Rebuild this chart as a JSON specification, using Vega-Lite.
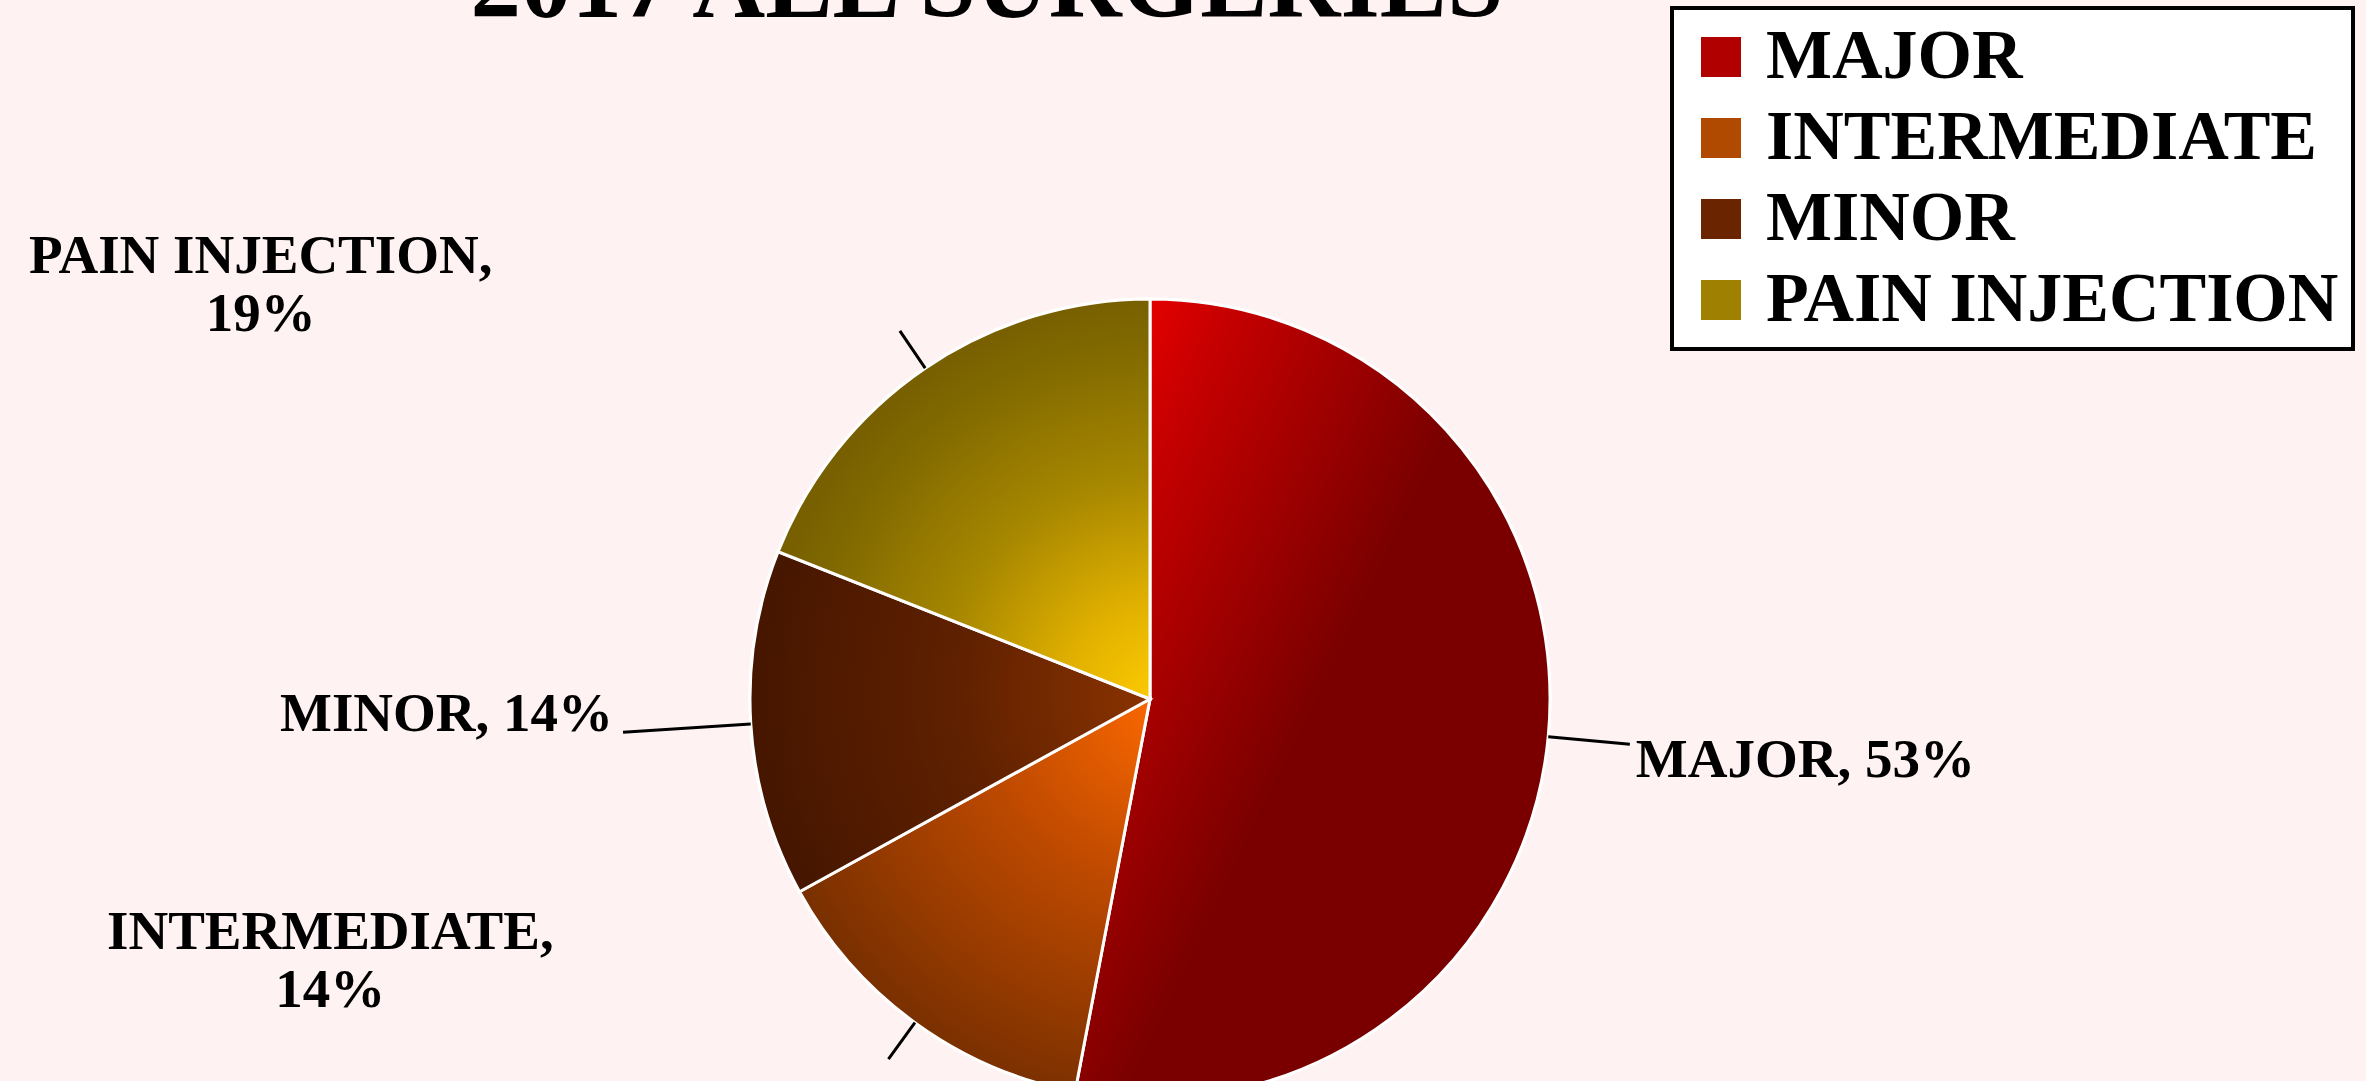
{
  "$schema": "https://vega.github.io/schema/vega-lite/v6.json",
  "autosize": "none",
  "width": 2300,
  "height": 764,
  "padding": {"left": 0, "top": 317, "right": 66, "bottom": 0},
  "background": "#FFF2F2",
  "title": {
    "text": "2017 ALL SURGERIES",
    "font": "Liberation Serif",
    "fontSize": 101,
    "fontWeight": "bold",
    "color": "black",
    "anchor": "middle",
    "frame": "group",
    "baseline": "alphabetic",
    "offset": -18,
    "dx": -163,
    "dy": 94
  },
  "data": {
    "values": [
      {"category": "MAJOR", "value": 53, "order": 1, "label": "MAJOR, 53%"},
      {"category": "INTERMEDIATE", "value": 14, "order": 2, "label": "INTERMEDIATE,\n14%"},
      {"category": "MINOR", "value": 14, "order": 3, "label": "MINOR, 14%"},
      {"category": "PAIN INJECTION", "value": 19, "order": 4, "label": "PAIN INJECTION,\n19%"}
    ]
  },
  "resolve": {"scale": {"theta": "independent"}},
  "layer": [
    {
      "mark": {"type": "arc", "radius": 400, "stroke": "white", "strokeWidth": 3},
      "encoding": {
        "theta": {"field": "value", "type": "quantitative", "stack": true, "scale": {"domain": [0, 100]}},
        "color": {
          "field": "category",
          "type": "nominal",
          "scale": {
            "domain": ["MAJOR", "INTERMEDIATE", "MINOR", "PAIN INJECTION"],
            "range": ["#B00000", "#B04A00", "#6A2500", "#A08000"]
          },
          "legend": {
            "title": null,
            "orient": "none",
            "legendX": 1672,
            "legendY": -309,
            "direction": "vertical",
            "fillColor": "white",
            "strokeColor": "black",
            "padding": 14,
            "symbolType": "square",
            "symbolSize": 1600,
            "symbolStrokeWidth": 0,
            "symbolOpacity": 1,
            "labelFont": "Liberation Serif",
            "labelFontSize": 70,
            "labelFontWeight": "bold",
            "labelColor": "black",
            "labelOffset": 10,
            "labelLimit": 1000,
            "rowPadding": 11
          }
        },
        "order": {"field": "order", "type": "quantitative"}
      }
    },
    {
      "transform": [
        {"stack": "value", "groupby": [], "sort": [{"field": "order", "order": "ascending"}], "as": ["v0", "v1"]},
        {"filter": "datum.category === 'MAJOR'"}
      ],
      "mark": {"type": "arc", "radius": 400, "stroke": "white", "strokeWidth": 3,
        "color": {"gradient": "linear", "x1": 0, "y1": 0, "x2": 0.55, "y2": 0.45,
          "stops": [{"offset": 0, "color": "#FF0000"}, {"offset": 0.35, "color": "#C80000"}, {"offset": 1, "color": "#7A0000"}]}},
      "encoding": {
        "theta": {"field": "v0", "type": "quantitative", "scale": {"domain": [0, 100]}},
        "theta2": {"field": "v1"}
      }
    },
    {
      "transform": [
        {"stack": "value", "groupby": [], "sort": [{"field": "order", "order": "ascending"}], "as": ["v0", "v1"]},
        {"filter": "datum.category === 'INTERMEDIATE'"}
      ],
      "mark": {"type": "arc", "radius": 400, "stroke": "white", "strokeWidth": 3,
        "color": {"gradient": "radial", "x1": 1, "y1": 0, "r1": 0, "x2": 1, "y2": 0, "r2": 1.05,
          "stops": [{"offset": 0, "color": "#FF6A00"}, {"offset": 0.45, "color": "#BF4A00"}, {"offset": 1, "color": "#7A3000"}]}},
      "encoding": {
        "theta": {"field": "v0", "type": "quantitative", "scale": {"domain": [0, 100]}},
        "theta2": {"field": "v1"}
      }
    },
    {
      "transform": [
        {"stack": "value", "groupby": [], "sort": [{"field": "order", "order": "ascending"}], "as": ["v0", "v1"]},
        {"filter": "datum.category === 'MINOR'"}
      ],
      "mark": {"type": "arc", "radius": 400, "stroke": "white", "strokeWidth": 3,
        "color": {"gradient": "radial", "x1": 1, "y1": 0.43, "r1": 0, "x2": 1, "y2": 0.43, "r2": 1.0,
          "stops": [{"offset": 0, "color": "#8A3300"}, {"offset": 0.5, "color": "#5E2000"}, {"offset": 1, "color": "#461600"}]}},
      "encoding": {
        "theta": {"field": "v0", "type": "quantitative", "scale": {"domain": [0, 100]}},
        "theta2": {"field": "v1"}
      }
    },
    {
      "transform": [
        {"stack": "value", "groupby": [], "sort": [{"field": "order", "order": "ascending"}], "as": ["v0", "v1"]},
        {"filter": "datum.category === 'PAIN INJECTION'"}
      ],
      "mark": {"type": "arc", "radius": 400, "stroke": "white", "strokeWidth": 3,
        "color": {"gradient": "radial", "x1": 1, "y1": 1, "r1": 0, "x2": 1, "y2": 1, "r2": 1.0,
          "stops": [{"offset": 0, "color": "#FFCC00"}, {"offset": 0.25, "color": "#E0B000"}, {"offset": 0.55, "color": "#A88800"}, {"offset": 0.85, "color": "#846C00"}, {"offset": 1, "color": "#786000"}]}},
      "encoding": {
        "theta": {"field": "v0", "type": "quantitative", "scale": {"domain": [0, 100]}},
        "theta2": {"field": "v1"}
      }
    },
    {
      "transform": [{"filter": "datum.category === 'MAJOR'"}],
      "mark": {"type": "arc", "radius": 482, "radius2": 400, "fill": "transparent", "stroke": "black", "strokeWidth": 3},
      "encoding": {
        "theta": {"field": "value", "type": "quantitative", "stack": null, "scale": {"domain": [0, 200]}},
        "theta2": {"field": "value"}
      }
    },
    {
      "mark": {"type": "arc", "radius": 528, "radius2": 400, "padAngle": 3.1416, "fill": "transparent", "stroke": "black", "strokeWidth": 3},
      "encoding": {
        "theta": {"field": "value", "type": "quantitative", "stack": true, "scale": {"domain": [0, 100]}},
        "detail": {"field": "category", "type": "nominal"},
        "order": {"field": "order", "type": "quantitative"},
        "strokeOpacity": {"condition": {"test": "datum.category === 'MINOR'", "value": 1}, "value": 0}
      }
    },
    {
      "mark": {"type": "arc", "radius": 445, "radius2": 400, "padAngle": 3.1416, "fill": "transparent", "stroke": "black", "strokeWidth": 3},
      "encoding": {
        "theta": {"field": "value", "type": "quantitative", "stack": true, "scale": {"domain": [0, 100]}},
        "detail": {"field": "category", "type": "nominal"},
        "order": {"field": "order", "type": "quantitative"},
        "strokeOpacity": {"condition": {"test": "datum.category === 'PAIN INJECTION' || datum.category === 'INTERMEDIATE'", "value": 1}, "value": 0}
      }
    },
    {
      "mark": {"type": "text", "radius": 488, "align": "left", "baseline": "middle", "dx": 0, "dy": 15, "font": "Liberation Serif", "fontSize": 55, "fontWeight": "bold", "color": "black", "lineBreak": "\n", "lineHeight": 58},
      "encoding": {
        "theta": {"field": "value", "type": "quantitative", "stack": true, "scale": {"domain": [0, 100]}},
        "detail": {"field": "category", "type": "nominal"},
        "order": {"field": "order", "type": "quantitative"},
        "text": {"condition": {"test": "datum.category === 'MAJOR'", "field": "label", "type": "nominal"}, "value": ""}
      }
    },
    {
      "mark": {"type": "text", "radius": 520, "align": "center", "baseline": "middle", "dx": -514, "dy": -188, "font": "Liberation Serif", "fontSize": 55, "fontWeight": "bold", "color": "black", "lineBreak": "\n", "lineHeight": 58},
      "encoding": {
        "theta": {"field": "value", "type": "quantitative", "stack": true, "scale": {"domain": [0, 100]}},
        "detail": {"field": "category", "type": "nominal"},
        "order": {"field": "order", "type": "quantitative"},
        "text": {"condition": {"test": "datum.category === 'INTERMEDIATE'", "field": "label", "type": "nominal"}, "value": ""}
      }
    },
    {
      "mark": {"type": "text", "radius": 538, "align": "right", "baseline": "middle", "dx": 0, "dy": -19, "font": "Liberation Serif", "fontSize": 55, "fontWeight": "bold", "color": "black", "lineBreak": "\n", "lineHeight": 58},
      "encoding": {
        "theta": {"field": "value", "type": "quantitative", "stack": true, "scale": {"domain": [0, 100]}},
        "detail": {"field": "category", "type": "nominal"},
        "order": {"field": "order", "type": "quantitative"},
        "text": {"condition": {"test": "datum.category === 'MINOR'", "field": "label", "type": "nominal"}, "value": ""}
      }
    },
    {
      "mark": {"type": "text", "radius": 520, "align": "center", "baseline": "middle", "dx": -597, "dy": -13, "font": "Liberation Serif", "fontSize": 55, "fontWeight": "bold", "color": "black", "lineBreak": "\n", "lineHeight": 58},
      "encoding": {
        "theta": {"field": "value", "type": "quantitative", "stack": true, "scale": {"domain": [0, 100]}},
        "detail": {"field": "category", "type": "nominal"},
        "order": {"field": "order", "type": "quantitative"},
        "text": {"condition": {"test": "datum.category === 'PAIN INJECTION'", "field": "label", "type": "nominal"}, "value": ""}
      }
    }
  ],
  "config": {
    "view": {"stroke": null},
    "legend": {"strokeWidth": 4}
  }
}
